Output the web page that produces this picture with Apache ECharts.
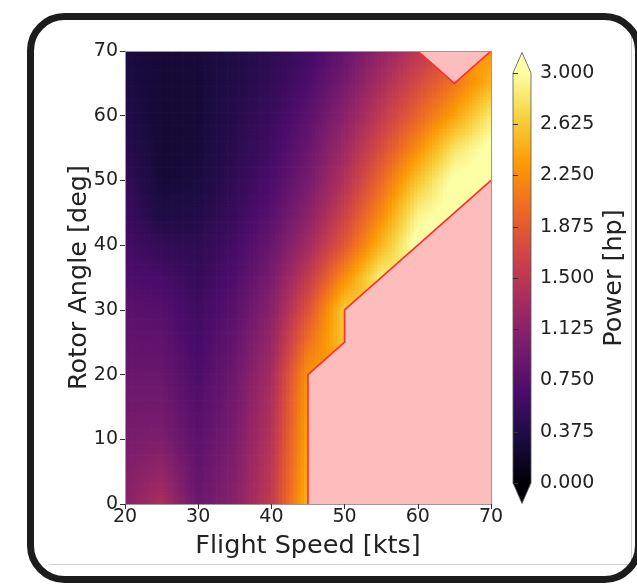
<!DOCTYPE html>
<html><head><meta charset="utf-8">
<script src="https://cdn.jsdelivr.net/npm/echarts@6/dist/echarts.min.js"></script>
<style>html,body{margin:0;padding:0;background:#fff}#c{width:637px;height:585px}</style>
</head><body><div id="c"></div>
<script>
// Flight speed [kts] (columns) and rotor angle [deg] (rows)
const speeds = [20,25,30,35,40,45,50,55,60,65,70];
const angles = [0,5,10,15,20,25,30,35,40,45,50,55,60,65,70];
// Power [hp]; one row per rotor angle, one value per flight speed; null = infeasible
const power = [
  [1.12,1.38,0.90,1.12,1.55,2.50,null,null,null,null,null], // 0
  [1.07,1.20,0.84,1.07,1.50,2.45,null,null,null,null,null], // 5
  [1.00,1.04,0.79,1.02,1.45,2.40,null,null,null,null,null], // 10
  [0.95,0.96,0.73,0.97,1.40,2.35,null,null,null,null,null], // 15
  [0.90,0.89,0.68,0.92,1.33,2.30,null,null,null,null,null], // 20
  [0.84,0.82,0.63,0.85,1.22,2.05,2.60,null,null,null,null], // 25
  [0.78,0.75,0.58,0.78,1.12,1.80,2.65,null,null,null,null], // 30
  [0.70,0.64,0.52,0.70,1.00,1.55,2.25,2.90,null,null,null], // 35
  [0.63,0.50,0.46,0.62,0.88,1.30,1.85,2.50,3.10,null,null], // 40
  [0.57,0.35,0.38,0.54,0.76,1.12,1.62,2.22,2.90,3.10,null], // 45
  [0.51,0.28,0.32,0.48,0.67,0.98,1.42,1.98,2.60,3.05,3.10], // 50
  [0.44,0.26,0.29,0.44,0.60,0.88,1.28,1.75,2.25,2.80,3.05], // 55
  [0.38,0.26,0.28,0.41,0.55,0.78,1.12,1.54,1.95,2.38,2.85], // 60
  [0.34,0.27,0.28,0.38,0.49,0.68,0.98,1.36,1.72,2.08,2.50], // 65
  [0.33,0.28,0.30,0.37,0.46,0.60,0.85,1.18,1.50,null,2.32]  // 70
];
const colorbarMin = 0, colorbarMax = 3, colorbarStep = 0.375;
// infeasible regions (polygon vertices, speed/angle)
const infeasibleLow = [[45,0],[45,20],[50,25],[50,30],[70,50],[70,0]];
const infeasibleHigh = [[60,70],[65,65],[70,70]];

const infernoStops = ['#000004','#1b0c42','#4b0c6b','#781c6d','#a52c60','#cf4446','#ed6925','#fb9a06','#f7d03c','#fcffa4'];
const stopRGB = infernoStops.map(h => [parseInt(h.slice(1,3),16),parseInt(h.slice(3,5),16),parseInt(h.slice(5,7),16)]);
function inferno(v){
  let t = (v - colorbarMin)/(colorbarMax - colorbarMin);
  t = Math.max(0, Math.min(1, t));
  const f = t*(stopRGB.length-1);
  const k = Math.min(stopRGB.length-2, Math.floor(f));
  const r = f-k;
  const a = stopRGB[k], b = stopRGB[k+1];
  return 'rgb(' + Math.round(a[0]+(b[0]-a[0])*r) + ',' + Math.round(a[1]+(b[1]-a[1])*r) + ',' + Math.round(a[2]+(b[2]-a[2])*r) + ')';
}

const cellData = [];
for (let j=0;j<angles.length-1;j++) for (let i=0;i<speeds.length-1;i++) cellData.push([speeds[i], angles[j], i, j]);

function cellRender(params, api){
  const i = api.value(2), j = api.value(3);
  let c = [power[j][i], power[j][i+1], power[j+1][i], power[j+1][i+1]];
  const known = c.filter(v => v !== null);
  if (!known.length) return null;
  const avg = known.reduce((s,v)=>s+v,0)/known.length;
  c = c.map(v => v === null ? avg : v);
  const pA = api.coord([speeds[i], angles[j]]);
  const pB = api.coord([speeds[i+1], angles[j+1]]);
  const N = 10;
  const dx = (pB[0]-pA[0])/N, dy = (pA[1]-pB[1])/N;
  const children = [];
  for (let a=0;a<N;a++) for (let b=0;b<N;b++){
    const u=(a+0.5)/N, w=(b+0.5)/N;
    const v = c[0]*(1-u)*(1-w) + c[1]*u*(1-w) + c[2]*(1-u)*w + c[3]*u*w;
    const x = pA[0]+a*dx, y = pA[1]-(b+1)*dy;
    children.push({type:'rect', shape:{x:x-0.35, y:y-0.35, width:dx+0.7, height:dy+0.7}, style:{fill:inferno(v)}});
  }
  return {type:'group', children};
}

function infeasibleRender(params, api){
  const low = infeasibleLow.map(p => api.coord(p));
  const high = infeasibleHigh.map(p => api.coord(p));
  return {type:'group', children:[
    {type:'polygon', shape:{points:low}, style:{fill:'#fdbdbd'}},
    {type:'polygon', shape:{points:high}, style:{fill:'#fdbdbd'}},
    {type:'polyline', shape:{points:low.slice(0, low.length-1)}, style:{stroke:'#ff2d2d', lineWidth:1.6, fill:null}},
    {type:'polyline', shape:{points:high}, style:{stroke:'#ff2d2d', lineWidth:1.6, fill:null}}
  ]};
}

function colorbarRender(params, api){
  const pBL = api.coord([0, colorbarMin]);
  const pTR = api.coord([1, colorbarMax]);
  const x0 = pBL[0], x1 = pTR[0], yB = pBL[1], yT = pTR[1];
  const ext = 0.05*(yB-yT);
  const mid = (x0+x1)/2;
  const grad = new echarts.graphic.LinearGradient(0,1,0,0, infernoStops.map((c,k)=>({offset:k/(infernoStops.length-1), color:c})));
  return {type:'group', children:[
    {type:'rect', shape:{x:x0, y:yT, width:x1-x0, height:yB-yT}, style:{fill:grad}},
    {type:'polygon', shape:{points:[[x0,yT+0.5],[x1,yT+0.5],[mid,yT-ext]]}, style:{fill:infernoStops[infernoStops.length-1]}},
    {type:'polygon', shape:{points:[[x0,yB-0.5],[x1,yB-0.5],[mid,yB+ext]]}, style:{fill:infernoStops[0]}},
    {type:'polygon', shape:{points:[[x0,yB],[x0,yT],[mid,yT-ext],[x1,yT],[x1,yB],[mid,yB+ext]]}, style:{fill:null, stroke:'#555', lineWidth:0.8}}
  ]};
}

const FONT = 'DejaVu Sans';
const tickLabel = {color:'#222', fontSize:19, fontFamily:FONT};
const nameStyle = {color:'#222', fontSize:25.5, fontFamily:FONT};

const chart = echarts.init(document.getElementById('c'), null, {renderer:'canvas'});
chart.setOption({
  backgroundColor:'#fff',
  animation:false,
  graphic:[
    {type:'line', shape:{x1:631.5, y1:32, x2:631.5, y2:565}, style:{stroke:'#cfcfcf', lineWidth:1}, z:1},
    {type:'line', shape:{x1:49, y1:564.5, x2:632, y2:564.5}, style:{stroke:'#cfcfcf', lineWidth:1}, z:1},
    {type:'rect', shape:{x:30.5, y:16.5, width:608, height:563, r:34}, style:{fill:null, stroke:'#1c1c1c', lineWidth:7}, z:100}
  ],
  grid:[
    {left:125, top:51, width:366, height:453},
    {left:513, top:73, width:18, height:410}
  ],
  xAxis:[
    {gridIndex:0, type:'value', min:20, max:70, interval:10, z:10,
     name:'Flight Speed [kts]', nameLocation:'middle', nameGap:29, nameMoveOverlap:false, nameTextStyle:nameStyle,
     axisLine:{onZero:false, lineStyle:{color:'#999', width:1}},
     axisTick:{length:5, lineStyle:{color:'#333'}},
     axisLabel:Object.assign({margin:4}, tickLabel), splitLine:{show:false}},
    {gridIndex:1, type:'value', min:0, max:1, show:false},
    {gridIndex:0, type:'value', min:20, max:70, position:'top', z:10,
     axisLine:{show:true, onZero:false, lineStyle:{color:'#999', width:1}}, axisTick:{show:false}, axisLabel:{show:false}, splitLine:{show:false}}
  ],
  yAxis:[
    {gridIndex:0, type:'value', min:0, max:70, interval:10, z:10,
     name:'Rotor Angle [deg]', nameLocation:'middle', nameGap:33, nameMoveOverlap:false, nameTextStyle:nameStyle,
     axisLine:{show:true, onZero:false, lineStyle:{color:'#999', width:1}},
     axisTick:{show:true, length:5, lineStyle:{color:'#333'}},
     axisLabel:Object.assign({margin:7}, tickLabel), splitLine:{show:false}},
    {gridIndex:1, type:'value', min:colorbarMin, max:colorbarMax, interval:colorbarStep, position:'right', z:10,
     name:'Power [hp]', nameLocation:'middle', nameGap:70, nameRotate:90, nameMoveOverlap:false, nameTextStyle:nameStyle,
     axisLine:{show:false}, axisTick:{show:true, length:5, lineStyle:{color:'#333'}},
     axisLabel:Object.assign({margin:9, formatter:v=>v.toFixed(3)}, tickLabel), splitLine:{show:false}},
    {gridIndex:0, type:'value', min:0, max:70, position:'right', z:10,
     axisLine:{show:true, onZero:false, lineStyle:{color:'#999', width:1}}, axisTick:{show:false}, axisLabel:{show:false}, splitLine:{show:false}}
  ],
  series:[
    {type:'custom', xAxisIndex:0, yAxisIndex:0, data:cellData, encode:{x:0, y:1}, renderItem:cellRender, clip:true, silent:true},
    {type:'custom', xAxisIndex:0, yAxisIndex:0, data:[[speeds[0], angles[0]]], encode:{x:0, y:1}, renderItem:infeasibleRender, clip:true, silent:true, z:3},
    {type:'custom', xAxisIndex:1, yAxisIndex:1, data:[[0, colorbarMin]], encode:{x:0, y:1}, renderItem:colorbarRender, clip:false, silent:true}
  ]
});
</script></body></html>
